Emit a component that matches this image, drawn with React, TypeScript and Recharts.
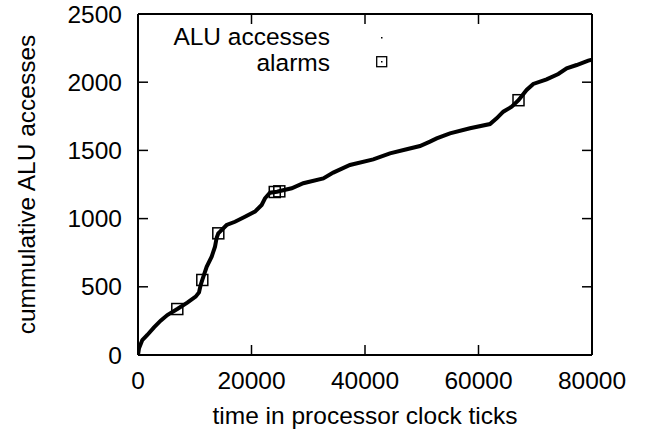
import React from 'react';
import { ComposedChart, Line, Scatter, XAxis, YAxis } from 'recharts';

const timeTicks: number[] = [0, 20000, 40000, 60000, 80000];
const accessTicks: number[] = [0, 500, 1000, 1500, 2000, 2500];

const curveTime: number[] = [
  0, 180, 760, 1640, 2820, 3990, 5170, 6925, 8690, 10160, 10750, 11040, 11330, 12100, 12980,
  13570, 13860, 14150, 14450, 15620, 17090, 18850, 20610, 21790, 22380, 23260, 24500, 25000,
  27080, 29130, 32650, 34410, 37350, 41460, 44400, 47340, 49690, 51450, 52630, 54970, 58500,
  62020, 63200, 64370, 65850, 67050, 68480, 69650, 72000, 74060, 75540, 77300, 79340, 80000,
];
const curveAccesses: number[] = [
  0, 49, 110, 147, 203, 252, 293, 337, 384, 428, 459, 513, 550, 647, 721,
  794, 860, 892, 904, 953, 977, 1014, 1051, 1100, 1149, 1190, 1197, 1202,
  1222, 1259, 1295, 1337, 1393, 1434, 1478, 1508, 1532, 1564, 1588, 1625, 1662,
  1693, 1735, 1784, 1820, 1868, 1943, 1987, 2021, 2060, 2102, 2126, 2158, 2165,
];

const alarmTime: number[] = [6925, 11330, 14150, 24100, 24900, 67050];
const alarmAccesses: number[] = [337, 550, 892, 1195, 1200, 1868];

const curve = curveTime.map((x, i) => ({ x, y: curveAccesses[i] }));
const alarms = alarmTime.map((x, i) => ({ x, y: alarmAccesses[i] }));

const FONT = '"Liberation Sans", Arial, Helvetica, sans-serif';
const FS = 24.5;

const NoTick = () => <g />;

const AlarmSquare = (props: any) => {
  const { cx, cy } = props;
  if (cx == null || cy == null) return <g />;
  return (
    <rect x={cx - 5.5} y={cy - 5.5} width={11} height={11} fill="none" stroke="#000" strokeWidth={1.5} />
  );
};

const axisLine = { stroke: '#000', strokeWidth: 2 };
const tickLine = { stroke: '#000', strokeWidth: 1.5 };
const tickStyle = { fill: '#000', fontSize: FS, fontFamily: FONT };

export default function App() {
  return (
    <div style={{ position: 'absolute', left: 0, top: 0, width: 645, height: 433, background: '#fff' }}>
      <ComposedChart width={645} height={433} margin={{ top: 0, right: 0, bottom: 0, left: 0 }}>
        <XAxis
          xAxisId="b"
          type="number"
          dataKey="x"
          orientation="bottom"
          domain={[0, 80000]}
          ticks={timeTicks}
          allowDataOverflow
          height={78}
          tickSize={-10}
          tickMargin={27}
          axisLine={axisLine}
          tickLine={tickLine}
          tick={tickStyle}
          label={{
            value: 'time in processor clock ticks',
            position: 'insideBottom',
            offset: 9,
            fill: '#000',
            fontSize: FS,
            fontFamily: FONT,
          }}
        />
        <XAxis
          xAxisId="t"
          type="number"
          dataKey="x"
          orientation="top"
          domain={[0, 80000]}
          ticks={timeTicks}
          allowDataOverflow
          height={14}
          tickSize={-10}
          axisLine={axisLine}
          tickLine={tickLine}
          tick={NoTick}
        />
        <YAxis
          yAxisId="l"
          type="number"
          orientation="left"
          domain={[0, 2500]}
          ticks={accessTicks}
          allowDataOverflow
          width={138}
          tickSize={-10}
          tickMargin={26}
          axisLine={axisLine}
          tickLine={tickLine}
          tick={tickStyle}
          label={{
            value: 'cummulative ALU accesses',
            angle: -90,
            position: 'insideLeft',
            offset: 26,
            fill: '#000',
            fontSize: FS,
            fontFamily: FONT,
            style: { textAnchor: 'middle' },
          }}
        />
        <YAxis
          yAxisId="r"
          type="number"
          orientation="right"
          domain={[0, 2500]}
          ticks={accessTicks}
          allowDataOverflow
          width={53}
          tickSize={-10}
          axisLine={axisLine}
          tickLine={tickLine}
          tick={NoTick}
        />
        <Line
          xAxisId="b"
          yAxisId="l"
          data={curve}
          dataKey="y"
          type="linear"
          stroke="#000"
          strokeWidth={4}
          dot={false}
          activeDot={false}
          isAnimationActive={false}
        />
        <Scatter
          xAxisId="b"
          yAxisId="l"
          data={alarms}
          dataKey="y"
          shape={AlarmSquare}
          isAnimationActive={false}
        />
      </ComposedChart>
      <svg
        width={645}
        height={433}
        style={{ position: 'absolute', left: 0, top: 0, pointerEvents: 'none' }}
      >
        <text x={330} y={45} textAnchor="end" fontSize={FS} fontFamily={FONT} fill="#000">
          ALU accesses
        </text>
        <rect x={381} y={37} width={1.5} height={1.5} fill="#000" />
        <text x={330} y={70.5} textAnchor="end" fontSize={FS} fontFamily={FONT} fill="#000">
          alarms
        </text>
        <rect x={376.7} y={56.7} width={10} height={10} fill="none" stroke="#000" strokeWidth={1.3} />
        <rect x={381} y={61} width={1.5} height={1.5} fill="#000" />
      </svg>
    </div>
  );
}
